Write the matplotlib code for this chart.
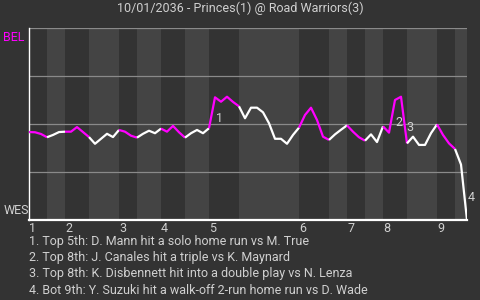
"""
Win probability chart: Princes @ Road Warriors, 10/01/2036.
"""

import matplotlib
matplotlib.use("Agg")
import matplotlib.pyplot as plt

title = "10/01/2036 - Princes(1) @ Road Warriors(3)"
away_label = "BEL"
home_label = "WES"

# win probability for the away side after each play
win_prob = [0.458, 0.457, 0.448, 0.431, 0.443, 0.458, 0.460, 0.460, 0.484, 0.458,
            0.432, 0.397, 0.423, 0.449, 0.432, 0.469, 0.460, 0.439, 0.429, 0.449,
            0.465, 0.452, 0.476, 0.460, 0.490, 0.457, 0.429, 0.452, 0.469, 0.452,
            0.478, 0.639, 0.616, 0.642, 0.615, 0.592, 0.530, 0.585, 0.585, 0.561,
            0.504, 0.423, 0.423, 0.397, 0.443, 0.481, 0.547, 0.585, 0.521, 0.434,
            0.417, 0.446, 0.470, 0.493, 0.460, 0.431, 0.413, 0.446, 0.406, 0.488,
            0.455, 0.625, 0.642, 0.399, 0.434, 0.391, 0.391, 0.452, 0.498, 0.443,
            0.399, 0.370, 0.289, 0.0]

# play index where each half inning starts (last entry = end of game)
half_starts = [0, 3, 6, 10, 15, 18, 22, 26, 30, 35, 45, 50, 53, 56, 59, 63, 68, 71, 73]
innings = ["1", "2", "3", "4", "5", "6", "7", "8", "9"]

events = [
    "1. Top 5th: D. Mann hit a solo home run vs M. True",
    "2. Top 8th: J. Canales hit a triple vs K. Maynard",
    "3. Top 8th: K. Disbennett hit into a double play vs N. Lenza",
    "4. Bot 9th: Y. Suzuki hit a walk-off 2-run home run vs D. Wade",
]
event_x = [31.2, 61.1, 62.9, 73.1]
event_y = [0.53, 0.51, 0.484, 0.115]

BG = "#333333"
BAND = "#444444"
GRID = "#8a8a8a"
TEXT = "#d0d0d0"
AWAY = "#ff00ff"
HOME = "#ffffff"
FS = 9

plt.rcParams["font.family"] = ["Roboto", "DejaVu Sans"]

fig = plt.figure(figsize=(4.8, 3.0), dpi=100, facecolor=BG)
ax = fig.add_axes([29 / 480, 80 / 300, 438 / 480, 192 / 300])
ax.set_facecolor(BG)

# shade the bottom halves
for i in range(len(half_starts) - 1):
    if i % 2 == 1:
        ax.axvspan(half_starts[i], half_starts[i + 1], color=BAND, lw=0, zorder=0)

for g in [0.25, 0.5, 0.75, 1.0]:
    ax.axhline(g, color=GRID, lw=0.9, zorder=1)

# line coloured by who is batting
for i in range(len(half_starts) - 1):
    a, b = half_starts[i], half_starts[i + 1]
    col = AWAY if i % 2 == 0 else HOME
    ax.plot(range(a, b + 1), win_prob[a:b + 1], color=col, lw=1.6, zorder=3,
            solid_capstyle="butt")

for n, (x, y) in enumerate(zip(event_x, event_y)):
    ax.text(x, y, str(n + 1), color=TEXT, fontsize=FS, ha="left", va="center", zorder=4)

ax.set_xlim(0, 73)
ax.set_ylim(0, 1)
for s in ["top", "right"]:
    ax.spines[s].set_visible(False)
ax.spines["left"].set_color(HOME)
ax.spines["left"].set_linewidth(1.0)
ax.spines["bottom"].set_color(HOME)
ax.spines["bottom"].set_linewidth(1.6)

ax.set_yticks([])
ax.set_xticks(half_starts[0:-1:2])
ax.set_xticklabels(innings, ha="left", color=TEXT, fontsize=FS)
ax.tick_params(axis="x", length=0, pad=1.5)

ax.text(-0.059, 0.985, away_label, color=AWAY, fontsize=FS, ha="left", va="top",
        transform=ax.transAxes)
ax.text(-0.059, 0.015, home_label, color=TEXT, fontsize=FS, ha="left", va="bottom",
        transform=ax.transAxes)

fig.text(0.5, 1 - 8 / 300, title, color=TEXT, fontsize=FS, ha="center", va="center")
for k, line in enumerate(events):
    fig.text(29 / 480, 1 - (242 + 16 * k) / 300, line, color=TEXT, fontsize=FS,
             ha="left", va="center")

fig.savefig("out.png", dpi=100, facecolor=BG)
